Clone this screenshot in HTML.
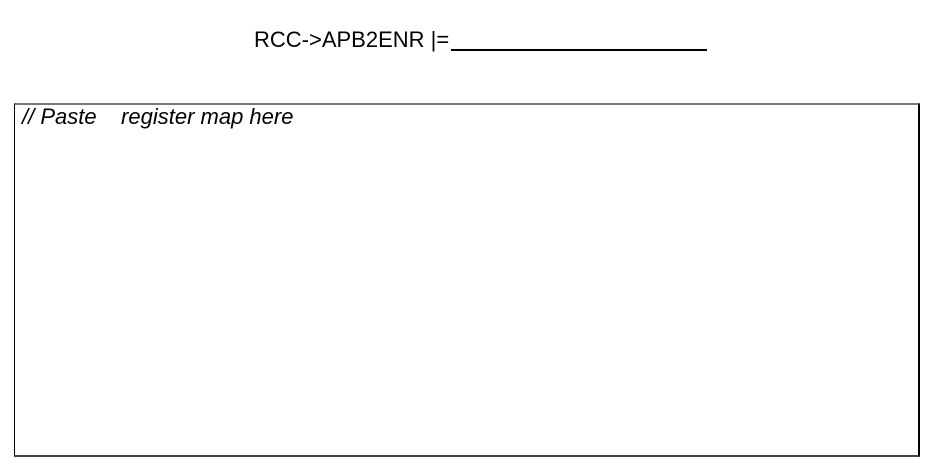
<!DOCTYPE html>
<html><head><style>
body{margin:0;width:937px;height:466px;background:#fff;position:relative;overflow:hidden;font-family:"Liberation Sans",Arial,sans-serif;}
#t{position:absolute;left:254px;top:29px;font-size:22px;line-height:22px;color:#000;white-space:nowrap;}
#u{position:absolute;left:451px;width:256px;top:49px;height:1.5px;background:#000;}
#box{position:absolute;left:14px;top:103px;width:903px;height:350px;border-top:2px solid #777;border-left:1.5px solid #000;border-right:2px solid #000;border-bottom:2px solid #444;}
#p{position:absolute;left:22px;top:106px;font-size:22px;font-style:italic;line-height:22px;white-space:pre;}
</style></head><body>
<div id="t">RCC-&gt;APB2ENR |=</div><div id="u"></div>
<div id="box"></div>
<div id="p">// Paste    register map here</div>
</body></html>
